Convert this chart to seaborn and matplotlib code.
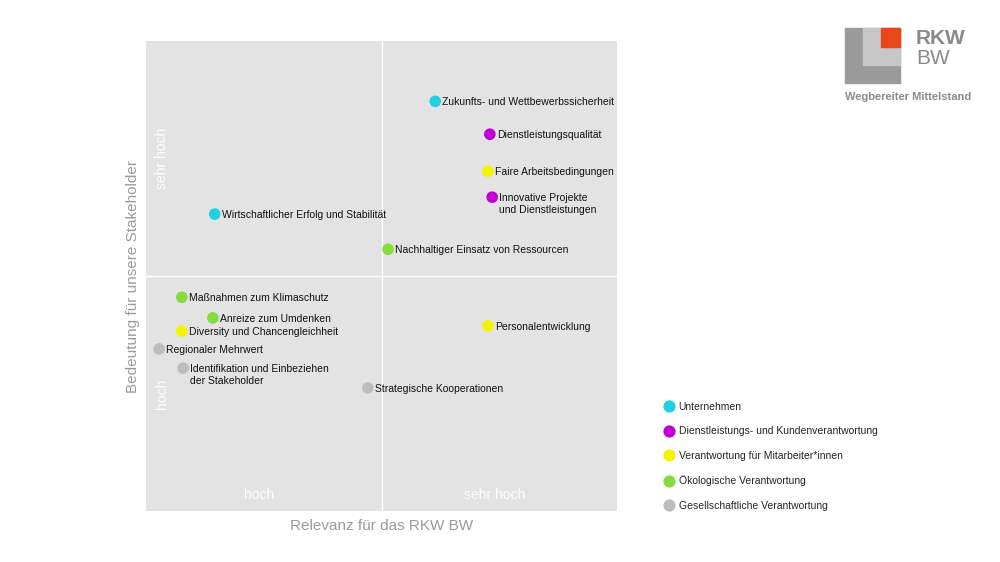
import pandas as pd
import seaborn as sns
import matplotlib.pyplot as plt
from matplotlib.patches import Rectangle

sns.set_theme(style="white")
plt.rcParams['font.family'] = ['Liberation Sans', 'DejaVu Sans']

# Themen der Wesentlichkeitsmatrix (Relevanz 0-100, Bedeutung 0-100)
themen = ["Zukunfts- und Wettbewerbssicherheit", "Dienstleistungsqualität",
          "Faire Arbeitsbedingungen", "Innovative Projekte\nund Dienstleistungen",
          "Wirtschaftlicher Erfolg und Stabilität", "Nachhaltiger Einsatz von Ressourcen",
          "Maßnahmen zum Klimaschutz", "Anreize zum Umdenken",
          "Diversity und Chancengleichheit", "Regionaler Mehrwert",
          "Identifikation und Einbeziehen\nder Stakeholder", "Strategische Kooperationen",
          "Personalentwicklung"]
relevanz = [61.4, 73.0, 72.6, 73.5, 14.6, 51.4, 7.6, 14.2, 7.6, 2.8, 7.9, 47.1, 72.6]
bedeutung = [87.2, 80.2, 72.3, 66.8, 63.2, 55.7, 45.5, 41.1, 38.3, 34.5, 30.4, 26.2, 39.4]
kategorie = ["Unternehmen", "Dienstleistungs- und Kundenverantwortung",
             "Verantwortung für Mitarbeiter*innen", "Dienstleistungs- und Kundenverantwortung",
             "Unternehmen", "Ökologische Verantwortung", "Ökologische Verantwortung",
             "Ökologische Verantwortung", "Verantwortung für Mitarbeiter*innen",
             "Gesellschaftliche Verantwortung", "Gesellschaftliche Verantwortung",
             "Gesellschaftliche Verantwortung", "Verantwortung für Mitarbeiter*innen"]

kategorien = ["Unternehmen", "Dienstleistungs- und Kundenverantwortung",
              "Verantwortung für Mitarbeiter*innen", "Ökologische Verantwortung",
              "Gesellschaftliche Verantwortung"]
farben = ["#1ed2e0", "#c200d6", "#f4f400", "#84dd3e", "#bdbdbd"]

df = pd.DataFrame({"thema": themen, "relevanz": relevanz,
                   "bedeutung": bedeutung, "kategorie": kategorie})

fig = plt.figure(figsize=(10, 5.62), dpi=100)
ax = fig.add_axes([0.146, 0.0907, 0.471, 0.836])
ax.set_facecolor("#e4e3e3")

sns.scatterplot(data=df, x="relevanz", y="bedeutung", hue="kategorie",
                hue_order=kategorien, palette=farben, s=70, linewidth=0,
                ax=ax, zorder=3)

ax.set_xlim(0, 100)
ax.set_ylim(0, 100)
ax.axvline(50, color="white", lw=1, zorder=1)
ax.axhline(50, color="white", lw=1, zorder=1)
for s in ax.spines.values():
    s.set_visible(False)
ax.set_xticks([])
ax.set_yticks([])
ax.set_xlabel("Relevanz für das RKW BW", color="#9a9a9a", fontsize=11, labelpad=6)
ax.set_ylabel("Bedeutung für unsere Stakeholder", color="#9a9a9a", fontsize=11, labelpad=4)

# Beschriftung der Punkte
for _, r in df.iterrows():
    ax.annotate(r["thema"], (r["relevanz"], r["bedeutung"]), xytext=(7, 4),
                textcoords="offset pixels", va="top", ha="left",
                fontsize=7.5, color="#111111", linespacing=1.25, zorder=4)

# Quadranten-Beschriftungen
ax.text(24, 3.5, "hoch", color="white", fontsize=10, ha="center", va="center")
ax.text(74, 3.5, "sehr hoch", color="white", fontsize=10, ha="center", va="center")
ax.text(3.4, 75, "sehr hoch", color="white", fontsize=10, ha="center", va="center", rotation=90)
ax.text(3.4, 25, "hoch", color="white", fontsize=10, ha="center", va="center", rotation=90)

sns.move_legend(ax, "upper left", bbox_to_anchor=(0.652, 0.302),
                bbox_transform=fig.transFigure, frameon=False, title=None,
                fontsize=7.5, labelspacing=1.4, handletextpad=0.15,
                markerscale=1.05, handlelength=1.5)

# Logo
logo = fig.add_axes([0, 0, 1, 1], facecolor="none")
logo.set_xlim(0, 1000)
logo.set_ylim(562, 0)
logo.axis("off")
logo.add_patch(Rectangle((845, 28), 55, 55, color="#9b9b9b"))
logo.add_patch(Rectangle((863, 28), 37, 37, color="#c6c6c6"))
logo.add_patch(Rectangle((881, 28), 19, 19, color="#e8471c"))
logo.text(916, 38, "RKW", fontsize=15, fontweight="bold", color="#8a8a8a", va="center")
logo.text(916, 59, "BW", fontsize=15, color="#8a8a8a", va="center")
logo.text(845, 97, "Wegbereiter Mittelstand", fontsize=8, fontweight="bold",
          color="#8a8a8a", va="center")

fig.savefig("out.png", dpi=100)
